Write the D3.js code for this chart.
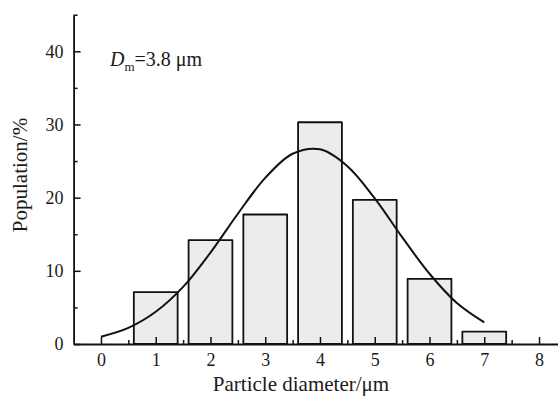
<!DOCTYPE html>
<html>
<head>
<meta charset="utf-8">
<script src="https://cdn.jsdelivr.net/npm/d3@7"></script>
<style>
  html, body { margin: 0; padding: 0; background: #fff; }
  svg { display: block; }
  text { font-family: "Liberation Serif", "Times New Roman", serif; fill: #1a1a1a; }
</style>
</head>
<body>
<svg id="chart" width="558" height="398"></svg>
<script>
// ---- data ----
const categories = [1, 2, 3, 4, 5, 6, 7];               // particle diameter bin centres (µm)
const population = [7.1, 14.2, 17.7, 30.3, 19.7, 8.9, 1.7]; // population (%)
const curveX = [0, 0.5, 1, 1.5, 2, 2.5, 3, 3.5, 4, 4.5, 5, 5.5, 6, 6.5, 7];
const curveY = [1.0, 2.2, 4.4, 7.8, 12.5, 17.8, 22.7, 26.0, 26.6, 24.3, 19.9, 14.6, 9.6, 5.6, 2.95];
const xTicks = [0, 1, 2, 3, 4, 5, 6, 7, 8];
const xMinorTicks = [0.5, 1.5, 2.5, 3.5, 4.5, 5.5, 6.5, 7.5, 8.5];
const yTicks = [0, 10, 20, 30, 40];
const yMinorTicks = [5, 15, 25, 35, 45];

const svg = d3.select("#chart");
const x = d3.scaleLinear().domain([-0.5, 8.5]).range([73.6, 566.4]);
const y = d3.scaleLinear().domain([0, 45]).range([344, 14.7]);
const barW = 0.8;

// bars
svg.append("g").selectAll("rect")
  .data(categories.map((c, i) => ({c, v: population[i]})))
  .join("rect")
  .attr("x", d => x(d.c - barW / 2))
  .attr("y", d => y(d.v))
  .attr("width", d => x(d.c + barW / 2) - x(d.c - barW / 2))
  .attr("height", d => y(0) - y(d.v))
  .attr("fill", "#ececec")
  .attr("stroke", "#111")
  .attr("stroke-width", 1.8)
  .attr("stroke-linejoin", "round");

// fitted curve
const line = d3.line()
  .x((d, i) => x(curveX[i]))
  .y(d => y(d))
  .curve(d3.curveCatmullRom.alpha(0.5));
svg.append("path")
  .datum(curveY)
  .attr("d", line)
  .attr("fill", "none")
  .attr("stroke", "#111")
  .attr("stroke-width", 2);

// x axis
const xAxisG = svg.append("g").attr("transform", `translate(0,${y(0)})`);
xAxisG.call(d3.axisBottom(x).tickValues(xTicks).tickSize(-7).tickSizeOuter(0).tickPadding(9).tickFormat(d3.format("d")));
const xMinorG = svg.append("g").attr("transform", `translate(0,${y(0)})`);
xMinorG.call(d3.axisBottom(x).tickValues(xMinorTicks).tickSize(-4).tickFormat(""));
xMinorG.select(".domain").remove();

// y axis
const yAxisG = svg.append("g").attr("transform", `translate(${x(-0.5)},0)`);
yAxisG.call(d3.axisLeft(y).tickValues(yTicks).tickSize(-7).tickSizeOuter(0).tickPadding(10).tickFormat(d3.format("d")));
const yMinorG = svg.append("g").attr("transform", `translate(${x(-0.5)},0)`);
yMinorG.call(d3.axisLeft(y).tickValues(yMinorTicks).tickSize(-4).tickFormat(""));
yMinorG.select(".domain").remove();

svg.selectAll(".domain").attr("stroke", "#111").attr("stroke-width", 1.8);
svg.selectAll(".tick line").attr("stroke", "#111").attr("stroke-width", 1.5);
svg.selectAll(".tick text")
  .attr("font-family", "Liberation Serif, Times New Roman, serif")
  .attr("font-size", 18)
  .attr("fill", "#1a1a1a");

// axis titles
svg.append("text")
  .attr("x", 301).attr("y", 391)
  .attr("text-anchor", "middle")
  .attr("font-size", 21)
  .text("Particle diameter/μm");
svg.append("text")
  .attr("transform", "translate(27,175) rotate(-90)")
  .attr("text-anchor", "middle")
  .attr("font-size", 21)
  .text("Population/%");

// annotation
const ann = svg.append("text").attr("x", 110).attr("y", 66).attr("font-size", 20);
ann.append("tspan").attr("font-style", "italic").text("D");
ann.append("tspan").attr("font-size", 13).attr("dy", 5).text("m");
ann.append("tspan").attr("dy", -5).text("=3.8 μm");
</script>
</body>
</html>
